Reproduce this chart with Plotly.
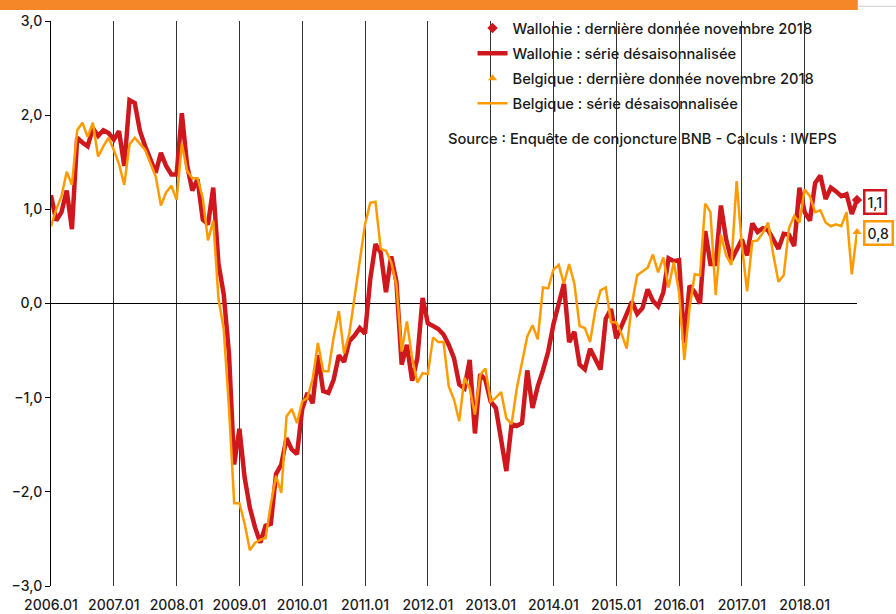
import plotly.graph_objects as go

# Monthly labels 2006.01 .. 2018.11
months = ['%d.%02d' % (y, m) for y in range(2006, 2019) for m in range(1, 13)][:155]
year_ticks = ['%d.01' % y for y in range(2006, 2019)]

# Wallonie - série désaisonnalisée
wallonie = [
    1.15, 0.88, 0.97, 1.20, 0.79, 1.76, 1.71, 1.67, 1.86, 1.78, 1.84, 1.81,
    1.74, 1.83, 1.46, 2.16, 2.13, 1.83, 1.67, 1.53, 1.39, 1.60, 1.46, 1.37,
    1.37, 2.02, 1.47, 1.20, 1.32, 0.89, 0.84, 1.23, 0.42, 0.10, -0.53, -1.71,
    -1.33, -1.85, -2.17, -2.38, -2.54, -2.36, -2.34, -1.81, -1.71, -1.43, -1.55, -1.60,
    -1.12, -0.95, -1.06, -0.55, -0.93, -0.95, -0.81, -0.55, -0.62, -0.40, -0.34, -0.26,
    -0.32, 0.26, 0.63, 0.54, 0.12, 0.50, 0.23, -0.65, -0.44, -0.82, -0.58, 0.06,
    -0.21, -0.24, -0.27, -0.33, -0.44, -0.58, -0.86, -0.90, -0.60, -1.38, -0.75, -0.81,
    -1.04, -1.11, -1.43, -1.78, -1.28, -1.30, -1.27, -0.71, -1.11, -0.88, -0.71, -0.51,
    -0.22, 0.00, 0.21, -0.41, -0.30, -0.65, -0.70, -0.48, -0.60, -0.70, -0.16, -0.06,
    -0.37, -0.23, -0.12, 0.02, -0.11, -0.05, 0.15, 0.03, -0.03, 0.12, 0.48, 0.45,
    0.46, -0.42, 0.19, 0.12, 0.00, 0.77, 0.42, 0.42, 1.04, 0.68, 0.46, 0.58,
    0.68, 0.51, 0.85, 0.76, 0.80, 0.78, 0.67, 0.58, 0.74, 0.73, 0.61, 1.23,
    0.97, 0.88, 1.28, 1.36, 1.11, 1.23, 1.19, 1.14, 1.16, 0.95, 1.10,
]

# Belgique - série désaisonnalisée
belgique = [
    0.82, 1.00, 1.14, 1.40, 1.26, 1.84, 1.92, 1.77, 1.92, 1.56, 1.67, 1.76,
    1.63, 1.48, 1.26, 1.69, 1.76, 1.70, 1.63, 1.49, 1.35, 1.04, 1.18, 1.25,
    1.10, 1.70, 1.41, 1.33, 1.33, 1.12, 0.67, 0.88, 0.05, -0.27, -1.10, -2.12,
    -2.12, -2.34, -2.62, -2.54, -2.51, -2.49, -2.13, -1.83, -2.01, -1.20, -1.12, -1.27,
    -1.04, -1.00, -0.80, -0.42, -0.72, -0.72, -0.36, -0.08, -0.53, -0.32, 0.05, 0.44,
    0.84, 1.07, 1.08, 0.58, 0.56, 0.44, 0.20, -0.51, -0.19, -0.58, -0.84, -0.74,
    -0.75, -0.36, -0.41, -0.41, -0.88, -1.02, -1.25, -0.79, -0.90, -1.18, -0.76, -0.69,
    -1.04, -1.00, -0.94, -1.22, -1.28, -0.90, -0.62, -0.35, -0.23, -0.38, 0.17, 0.16,
    0.36, 0.41, 0.21, 0.42, 0.21, -0.24, -0.26, -0.41, -0.07, 0.14, 0.17, -0.20,
    -0.20, -0.32, -0.48, 0.00, 0.30, 0.34, 0.38, 0.52, 0.33, 0.49, 0.17, 0.44,
    0.12, -0.60, -0.05, 0.31, 0.30, 1.06, 0.97, 0.09, 0.73, 0.51, 0.41, 1.30,
    0.62, 0.13, 0.66, 0.67, 0.75, 0.86, 0.52, 0.23, 0.30, 0.80, 0.93, 0.86,
    1.21, 1.14, 0.97, 0.99, 0.86, 0.82, 0.84, 0.82, 0.97, 0.31, 0.76,
]

RED = 'rgb(206,24,30)'
ORANGE = 'rgb(255,155,0)'
FONT = 'Inter'
TXT = '#1a1a1a'

fig = go.Figure()

# lines
fig.add_trace(go.Scatter(x = months, y = wallonie, mode = 'lines',
                         name = 'Wallonie : série désaisonnalisée',
                         line = {'color': RED, 'width': 4.5},
                         legendgroup = 'b', legendrank = 2))
fig.add_trace(go.Scatter(x = months, y = belgique, mode = 'lines',
                         name = 'Belgique : série désaisonnalisée',
                         line = {'color': ORANGE, 'width': 2.5},
                         legendgroup = 'd', legendrank = 4))
# last values
fig.add_trace(go.Scatter(x = months[-1:], y = wallonie[-1:], mode = 'markers',
                         name = 'Wallonie : dernière donnée novembre 2018',
                         marker = {'color': RED, 'symbol': 'diamond', 'size': 8},
                         cliponaxis = False, legendgroup = 'a', legendrank = 1))
fig.add_trace(go.Scatter(x = months[-1:], y = belgique[-1:], mode = 'markers',
                         name = 'Belgique : dernière donnée novembre 2018',
                         marker = {'color': ORANGE, 'symbol': 'triangle-up', 'size': 8},
                         cliponaxis = False, legendgroup = 'c', legendrank = 3))

# value boxes on the right
for val, col, px_x, shift in [ (wallonie[-1], RED, 875, -2), (belgique[-1], ORANGE, 879, -1) ]:
    fig.add_annotation(xref = 'paper', yref = 'y', x = (px_x - 51) / 806, y = val, yshift = shift,
                       xanchor = 'center', yanchor = 'middle',
                       text = ('%.1f' % val).replace('.', ','), showarrow = False,
                       font = {'family': FONT, 'size': 14, 'color': TXT, 'weight': 500},
                       bordercolor = col, borderwidth = 2.5, borderpad = 2,
                       bgcolor = 'white')

fig.add_annotation(xref = 'paper', yref = 'paper', x = 0.978, y = 0.792,
                   xanchor = 'right', yanchor = 'middle', showarrow = False,
                   text = 'Source : Enquête de conjoncture BNB - Calculs : IWEPS',
                   font = {'family': FONT, 'size': 14.7, 'color': TXT, 'weight': 500})

# orange band on top
fig.add_shape(type = 'rect', xref = 'paper', yref = 'paper',
              x0 = -0.07, x1 = 1.001, y0 = 1.0194, y1 = 1.04,
              fillcolor = 'rgb(245,135,40)', line = {'width': 0})
fig.add_shape(type = 'line', xref = 'paper', yref = 'paper',
              x0 = 1.001, x1 = 1.06, y0 = 1.026, y1 = 1.026,
              line = {'color': '#cccccc', 'width': 1})

fig.update_xaxes(type = 'category', range = [0, 154],
                 tickvals = year_ticks, ticktext = year_ticks,
                 showgrid = True, gridcolor = '#333333', gridwidth = 1,
                 showline = False, ticks = '', zeroline = False,
                 ticklabelstandoff = 9, automargin = False,
                 tickfont = {'family': FONT, 'size': 14, 'color': TXT, 'weight': 500})
fig.update_yaxes(range = [-3, 3], dtick = 1, tick0 = 0, tickformat = '.1f',
                 showgrid = False, zeroline = True, zerolinecolor = 'black', zerolinewidth = 1,
                 showline = True, linecolor = 'black', linewidth = 1,
                 ticks = 'outside', ticklen = 5, tickcolor = 'black', automargin = False,
                 tickfont = {'family': FONT, 'size': 14, 'color': TXT, 'weight': 500})

fig.update_layout(width = 896, height = 614,
                  margin = {'l': 51, 'r': 39, 't': 18, 'b': 28},
                  separators = ', ',
                  plot_bgcolor = 'white', paper_bgcolor = 'white',
                  showlegend = True,
                  legend = {'x': 0.523, 'y': 1.016, 'xanchor': 'left', 'yanchor': 'top',
                            'traceorder': 'grouped', 'tracegroupgap': 3,
                            'bgcolor': 'rgba(0,0,0,0)',
                            'font': {'family': FONT, 'size': 14.7, 'color': TXT, 'weight': 500}})

# no page margin so the figure sits at the window's top-left corner
fig.write_html("out.html", config = {'displayModeBar': False},
               post_script = "document.body.style.margin = '0';")
